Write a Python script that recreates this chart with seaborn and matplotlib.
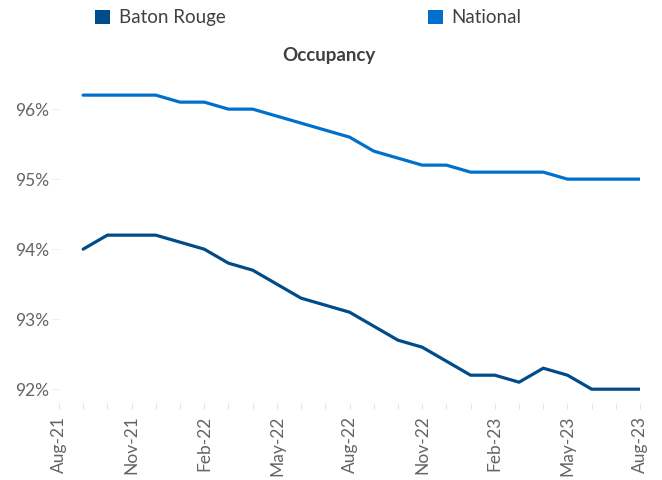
import numpy as np
import pandas as pd
import matplotlib
matplotlib.use("Agg")
import matplotlib.pyplot as plt
from matplotlib.patches import Patch
from matplotlib.ticker import FuncFormatter, MultipleLocator
import seaborn as sns

# axis months (Aug-21 .. Aug-23); data starts at Sep-21
axis_months = ["Aug-21", "Sep-21", "Oct-21", "Nov-21", "Dec-21", "Jan-22", "Feb-22",
               "Mar-22", "Apr-22", "May-22", "Jun-22", "Jul-22", "Aug-22", "Sep-22",
               "Oct-22", "Nov-22", "Dec-22", "Jan-23", "Feb-23", "Mar-23", "Apr-23",
               "May-23", "Jun-23", "Jul-23", "Aug-23"]
data_months = axis_months[1:]

baton_rouge = [94.0, 94.2, 94.2, 94.2, 94.1, 94.0, 93.8, 93.7, 93.5, 93.3, 93.2, 93.1,
               92.9, 92.7, 92.6, 92.4, 92.2, 92.2, 92.1, 92.3, 92.2, 92.0, 92.0, 92.0]
national = [96.2, 96.2, 96.2, 96.2, 96.1, 96.1, 96.0, 96.0, 95.9, 95.8, 95.7, 95.6,
            95.4, 95.3, 95.2, 95.2, 95.1, 95.1, 95.1, 95.1, 95.0, 95.0, 95.0, 95.0]

series_names = ["Baton Rouge", "National"]
colors = {"Baton Rouge": "#004C8A", "National": "#0070CC"}

df = pd.DataFrame({
    "month": data_months * 2,
    "pos": [axis_months.index(m) for m in data_months] * 2,
    "series": ["Baton Rouge"] * len(baton_rouge) + ["National"] * len(national),
    "value": baton_rouge + national,
})

sns.set_style("white")
plt.rcParams["font.family"] = ["Lato", "DejaVu Sans"]

fig = plt.figure(figsize=(6.62, 4.8), dpi=100)
ax = fig.add_axes([0.089, 0.16, 0.878, 0.671])

sns.lineplot(data=df, x="pos", y="value", hue="series", hue_order=series_names,
             palette=colors, linewidth=2.3, legend=False, ax=ax)

ax.set_xlim(0, len(axis_months) - 1)
ax.set_ylim(91.8, 96.4)
ax.yaxis.set_major_locator(MultipleLocator(1))
ax.yaxis.set_major_formatter(FuncFormatter(lambda v, p: f"{v:.0f}%"))

ax.set_xticks(range(0, len(axis_months), 3))
ax.set_xticklabels(axis_months[::3], rotation=90)
ax.set_xticks(range(len(axis_months)), minor=True)

for s in ax.spines.values():
    s.set_visible(False)

ax.tick_params(axis="x", which="both", length=4, color="#E6E6E6", width=0.8,
               labelsize=12.5, labelcolor="#646464", pad=5, bottom=True)
ax.tick_params(axis="y", length=5, color="#EDEDED", width=0.8,
               labelsize=12.5, labelcolor="#646464", pad=2, left=True)
ax.set_xlabel("")
ax.set_ylabel("")

fig.text(0.497, 0.885, "Occupancy", ha="center", va="center",
         fontsize=13.5, fontweight="bold", color="#404040")

handles = [Patch(facecolor=colors[n], edgecolor="none", label=n) for n in series_names]
fig.legend(handles=handles, ncol=2, loc="center", bbox_to_anchor=(0.466, 0.963),
           frameon=False, fontsize=13.5, handlelength=0.8, handleheight=0.8,
           handletextpad=0.45, columnspacing=10.8, labelcolor="#404040")

fig.savefig("out.png", dpi=100)
